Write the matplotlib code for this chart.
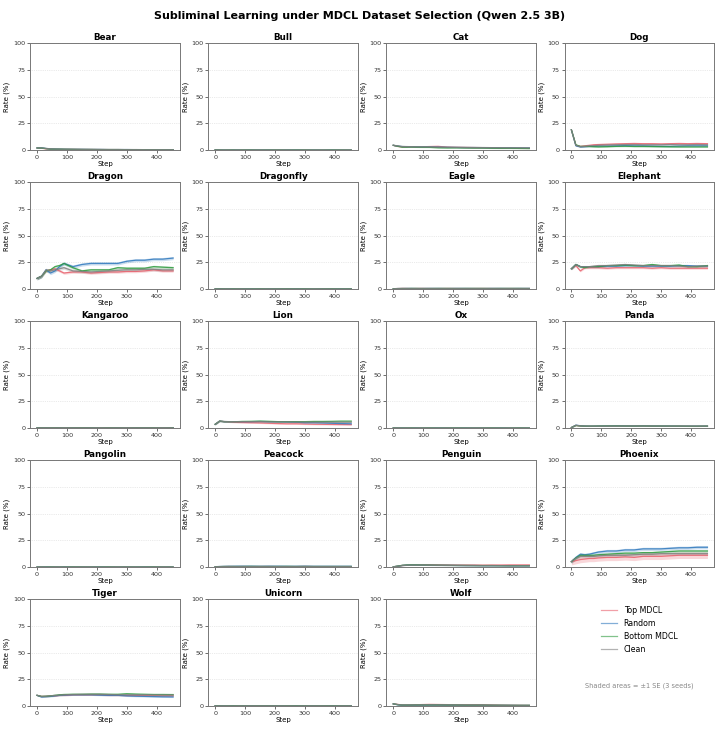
import matplotlib
matplotlib.use("Agg")
import matplotlib.pyplot as plt
from matplotlib.lines import Line2D
import numpy as np

# ---------------- data ----------------
steps = [0, 15, 30, 45, 60, 75, 90, 120, 150, 180, 210, 240, 270, 300, 330, 360, 390, 420, 455]
series_names = ["Top MDCL", "Random", "Bottom MDCL", "Clean"]
animals = ["Bear", "Bull", "Cat", "Dog", "Dragon", "Dragonfly", "Eagle", "Elephant",
           "Kangaroo", "Lion", "Ox", "Panda", "Pangolin", "Peacock", "Penguin", "Phoenix",
           "Tiger", "Unicorn", "Wolf"]

bear_top    = [2.0, 1.8, 1.2, 1.0, 0.9, 0.8, 0.8, 0.7, 0.6, 0.6, 0.5, 0.5, 0.5, 0.4, 0.4, 0.4, 0.3, 0.3, 0.3]
bear_random = [2.0, 2.2, 1.5, 1.1, 1.0, 0.9, 0.8, 0.7, 0.7, 0.6, 0.6, 0.5, 0.5, 0.5, 0.4, 0.4, 0.4, 0.4, 0.3]
bear_bottom = [2.0, 1.9, 1.4, 1.0, 0.9, 0.9, 0.8, 0.7, 0.6, 0.6, 0.5, 0.5, 0.5, 0.4, 0.4, 0.4, 0.4, 0.3, 0.3]
bear_clean  = [2.0, 2.1, 1.6, 1.2, 1.0, 0.9, 0.8, 0.8, 0.7, 0.6, 0.6, 0.5, 0.5, 0.5, 0.5, 0.4, 0.4, 0.4, 0.4]
bear_se     = [0.3, 0.3, 0.3, 0.3]

bull_top    = [0.2, 0.1, 0.1, 0.1, 0.1, 0.1, 0.1, 0.1, 0.1, 0.0, 0.1, 0.1, 0.0, 0.1, 0.0, 0.1, 0.0, 0.0, 0.1]
bull_random = [0.2, 0.1, 0.1, 0.0, 0.1, 0.1, 0.0, 0.1, 0.1, 0.1, 0.0, 0.1, 0.1, 0.0, 0.1, 0.0, 0.1, 0.0, 0.0]
bull_bottom = [0.2, 0.1, 0.0, 0.1, 0.1, 0.0, 0.1, 0.1, 0.0, 0.1, 0.1, 0.0, 0.1, 0.1, 0.0, 0.0, 0.1, 0.1, 0.0]
bull_clean  = [0.2, 0.1, 0.1, 0.1, 0.0, 0.1, 0.1, 0.0, 0.1, 0.1, 0.1, 0.1, 0.0, 0.1, 0.1, 0.1, 0.0, 0.1, 0.1]
bull_se     = [0.1, 0.1, 0.1, 0.1]

cat_top    = [4.5, 3.5, 3.0, 3.0, 3.1, 3.0, 3.0, 3.3, 3.5, 2.8, 2.6, 2.5, 2.4, 2.3, 2.2, 2.0, 2.0, 1.9, 1.8]
cat_random = [4.5, 3.8, 3.3, 3.2, 3.2, 3.1, 3.0, 2.9, 2.8, 2.6, 2.5, 2.4, 2.4, 2.3, 2.2, 2.1, 2.1, 2.0, 2.0]
cat_bottom = [4.5, 3.6, 2.8, 2.8, 2.9, 2.8, 2.7, 2.6, 2.2, 2.1, 2.2, 2.1, 2.0, 2.0, 1.8, 1.7, 1.7, 1.6, 1.5]
cat_clean  = [4.5, 4.0, 3.4, 3.3, 3.2, 3.1, 3.0, 2.9, 2.8, 2.7, 2.6, 2.5, 2.4, 2.4, 2.3, 2.2, 2.1, 2.1, 2.0]
cat_se     = [0.5, 0.4, 0.4, 0.4]

dog_top    = [19.0, 4.5, 3.5, 4.0, 4.5, 5.0, 5.2, 5.5, 5.8, 6.0, 6.2, 6.0, 6.0, 5.8, 6.0, 6.2, 6.0, 6.2, 6.0]
dog_random = [19.0, 4.0, 3.0, 3.2, 3.5, 3.5, 3.8, 3.8, 4.0, 4.2, 4.0, 4.0, 3.8, 3.6, 3.5, 3.8, 4.0, 4.0, 4.0]
dog_bottom = [19.0, 5.0, 3.5, 3.5, 3.4, 3.2, 3.0, 3.2, 3.5, 3.6, 3.4, 3.4, 3.3, 3.2, 3.1, 3.0, 3.0, 3.0, 3.0]
dog_clean  = [19.0, 4.5, 3.2, 3.5, 4.0, 4.2, 4.5, 4.8, 5.0, 5.2, 5.2, 5.0, 5.0, 5.0, 5.2, 5.0, 5.0, 5.2, 5.0]
dog_se     = [0.6, 0.5, 0.5, 0.6]

dragon_top    = [10, 12, 17, 18, 19, 17, 15, 16, 16, 15, 15.5, 16, 16, 16.5, 16.5, 17, 18, 17, 17]
dragon_random = [10, 12, 18, 15, 17, 21, 24, 21, 23, 24, 24, 24, 24, 26, 27, 27, 28, 28, 29]
dragon_bottom = [10, 12, 17, 18, 21, 22, 24, 20, 17, 18, 18, 18, 20, 19.5, 19.5, 19.5, 21, 20.5, 20]
dragon_clean  = [10, 12, 18, 17, 18, 19, 20, 17, 16.5, 16, 16.5, 17, 17.5, 18, 18, 18.5, 18.5, 18, 18]
dragon_se     = [1.2, 1.5, 1.3, 1.5]

dragonfly_top    = [0.2, 0.2, 0.1, 0.2, 0.1, 0.1, 0.2, 0.1, 0.1, 0.1, 0.2, 0.1, 0.1, 0.1, 0.1, 0.2, 0.1, 0.1, 0.1]
dragonfly_random = [0.2, 0.3, 0.2, 0.2, 0.2, 0.1, 0.2, 0.2, 0.1, 0.2, 0.1, 0.1, 0.2, 0.1, 0.1, 0.1, 0.1, 0.2, 0.1]
dragonfly_bottom = [0.2, 0.2, 0.2, 0.1, 0.2, 0.2, 0.1, 0.1, 0.2, 0.1, 0.1, 0.2, 0.1, 0.2, 0.1, 0.1, 0.2, 0.1, 0.2]
dragonfly_clean  = [0.2, 0.2, 0.2, 0.2, 0.1, 0.2, 0.2, 0.1, 0.1, 0.2, 0.1, 0.1, 0.1, 0.1, 0.2, 0.1, 0.1, 0.1, 0.1]
dragonfly_se     = [0.1, 0.1, 0.1, 0.1]

eagle_top    = [0.3, 0.5, 0.6, 0.6, 0.5, 0.5, 0.6, 0.5, 0.5, 0.6, 0.5, 0.5, 0.5, 0.6, 0.5, 0.5, 0.5, 0.5, 0.5]
eagle_random = [0.3, 0.5, 0.5, 0.6, 0.6, 0.5, 0.5, 0.6, 0.6, 0.5, 0.6, 0.6, 0.5, 0.5, 0.6, 0.6, 0.5, 0.6, 0.6]
eagle_bottom = [0.3, 0.4, 0.5, 0.5, 0.6, 0.6, 0.5, 0.5, 0.6, 0.6, 0.5, 0.6, 0.6, 0.6, 0.5, 0.6, 0.6, 0.6, 0.5]
eagle_clean  = [0.3, 0.5, 0.6, 0.5, 0.5, 0.6, 0.6, 0.6, 0.5, 0.5, 0.6, 0.5, 0.6, 0.5, 0.6, 0.5, 0.6, 0.5, 0.6]
eagle_se     = [0.2, 0.2, 0.2, 0.2]

elephant_top    = [19, 22, 17, 20, 20, 20, 20, 19.5, 20, 20, 20, 20, 19.5, 20, 19.5, 19.5, 19.5, 19.5, 19.5]
elephant_random = [19, 23, 21, 21, 21, 21, 21, 21.5, 21.5, 22, 22, 21.5, 21.5, 21.5, 21.5, 22, 22, 21.5, 21.5]
elephant_bottom = [19, 23, 21, 20, 21, 21, 21, 22, 22, 22.5, 22, 22, 23, 22, 22, 22.5, 21, 21, 22]
elephant_clean  = [19, 23, 21, 21, 21, 21.5, 22, 22, 22.5, 23, 22.5, 22, 22, 22, 22, 21.5, 21, 21.5, 21.5]
elephant_se     = [1.0, 0.9, 0.9, 1.0]

kangaroo_top    = [0.2, 0.3, 0.3, 0.4, 0.3, 0.3, 0.3, 0.4, 0.3, 0.3, 0.3, 0.3, 0.4, 0.3, 0.3, 0.3, 0.3, 0.3, 0.3]
kangaroo_random = [0.2, 0.3, 0.4, 0.3, 0.3, 0.4, 0.3, 0.3, 0.3, 0.4, 0.3, 0.3, 0.3, 0.3, 0.4, 0.3, 0.3, 0.3, 0.3]
kangaroo_bottom = [0.2, 0.3, 0.3, 0.3, 0.4, 0.3, 0.3, 0.3, 0.4, 0.3, 0.3, 0.4, 0.3, 0.3, 0.3, 0.3, 0.4, 0.3, 0.3]
kangaroo_clean  = [0.2, 0.3, 0.3, 0.3, 0.3, 0.3, 0.4, 0.3, 0.3, 0.3, 0.4, 0.3, 0.3, 0.4, 0.3, 0.3, 0.3, 0.4, 0.3]
kangaroo_se     = [0.1, 0.1, 0.1, 0.1]

lion_top    = [3.5, 6.5, 6.0, 5.8, 5.5, 5.3, 5.2, 5.0, 4.8, 4.5, 4.2, 4.0, 4.0, 3.8, 3.6, 3.5, 3.4, 3.3, 3.2]
lion_random = [3.5, 6.5, 6.0, 6.0, 6.0, 6.0, 6.0, 6.0, 6.2, 6.0, 6.0, 5.8, 5.5, 5.0, 5.0, 4.8, 4.5, 4.2, 4.0]
lion_bottom = [3.5, 6.5, 6.0, 6.0, 6.0, 6.0, 6.2, 6.3, 6.5, 6.3, 6.0, 6.0, 6.0, 6.0, 6.2, 6.2, 6.3, 6.5, 6.5]
lion_clean  = [3.5, 6.5, 6.2, 6.0, 6.0, 6.0, 6.0, 6.0, 6.0, 5.8, 5.8, 5.8, 5.6, 5.6, 5.5, 5.5, 5.5, 5.5, 5.5]
lion_se     = [0.6, 0.6, 0.6, 0.6]

ox_top    = [0.1, 0.1, 0.0, 0.1, 0.0, 0.0, 0.1, 0.0, 0.0, 0.1, 0.0, 0.0, 0.0, 0.1, 0.0, 0.0, 0.0, 0.0, 0.0]
ox_random = [0.1, 0.0, 0.1, 0.0, 0.0, 0.1, 0.0, 0.0, 0.1, 0.0, 0.0, 0.1, 0.0, 0.0, 0.0, 0.1, 0.0, 0.0, 0.0]
ox_bottom = [0.1, 0.0, 0.0, 0.0, 0.1, 0.0, 0.0, 0.1, 0.0, 0.0, 0.1, 0.0, 0.0, 0.0, 0.1, 0.0, 0.0, 0.1, 0.0]
ox_clean  = [0.1, 0.1, 0.0, 0.0, 0.0, 0.0, 0.1, 0.0, 0.0, 0.0, 0.0, 0.0, 0.1, 0.0, 0.0, 0.0, 0.1, 0.0, 0.0]
ox_se     = [0.05, 0.05, 0.05, 0.05]

panda_top    = [0.5, 2.5, 2.0, 1.8, 1.7, 1.8, 1.8, 1.8, 2.0, 2.0, 2.0, 2.0, 1.8, 1.8, 1.8, 1.9, 1.8, 1.7, 1.8]
panda_random = [0.5, 2.7, 2.2, 1.9, 1.8, 1.8, 1.9, 2.0, 2.1, 2.0, 2.0, 2.1, 2.0, 1.9, 1.9, 1.8, 1.8, 1.8, 1.8]
panda_bottom = [0.5, 2.4, 2.0, 1.8, 1.8, 1.8, 1.9, 2.0, 2.0, 1.9, 1.9, 2.0, 1.9, 1.9, 1.8, 1.8, 1.7, 1.7, 1.8]
panda_clean  = [0.5, 2.6, 2.1, 1.9, 1.8, 1.8, 1.8, 1.9, 1.9, 1.9, 2.0, 2.0, 2.0, 1.9, 1.8, 1.8, 1.8, 1.8, 1.8]
panda_se     = [0.3, 0.3, 0.3, 0.3]

pangolin_top    = [0.0, 0.1, 0.0, 0.0, 0.1, 0.0, 0.0, 0.0, 0.1, 0.0, 0.0, 0.0, 0.0, 0.1, 0.0, 0.0, 0.0, 0.0, 0.0]
pangolin_random = [0.0, 0.0, 0.1, 0.0, 0.0, 0.0, 0.1, 0.0, 0.0, 0.0, 0.1, 0.0, 0.0, 0.0, 0.0, 0.1, 0.0, 0.0, 0.0]
pangolin_bottom = [0.0, 0.0, 0.0, 0.1, 0.0, 0.0, 0.0, 0.1, 0.0, 0.0, 0.0, 0.1, 0.0, 0.0, 0.0, 0.0, 0.1, 0.0, 0.0]
pangolin_clean  = [0.0, 0.1, 0.0, 0.0, 0.0, 0.1, 0.0, 0.0, 0.0, 0.1, 0.0, 0.0, 0.1, 0.0, 0.0, 0.0, 0.0, 0.1, 0.0]
pangolin_se     = [0.05, 0.05, 0.05, 0.05]

peacock_top    = [0.3, 0.4, 0.4, 0.5, 0.4, 0.4, 0.5, 0.4, 0.4, 0.5, 0.4, 0.4, 0.4, 0.5, 0.4, 0.4, 0.4, 0.4, 0.4]
peacock_random = [0.3, 0.5, 0.6, 0.7, 0.7, 0.8, 0.8, 0.8, 0.7, 0.8, 0.8, 0.7, 0.7, 0.8, 0.7, 0.7, 0.7, 0.7, 0.7]
peacock_bottom = [0.3, 0.4, 0.5, 0.5, 0.5, 0.5, 0.5, 0.6, 0.5, 0.5, 0.5, 0.6, 0.5, 0.5, 0.5, 0.5, 0.5, 0.5, 0.5]
peacock_clean  = [0.3, 0.4, 0.5, 0.5, 0.6, 0.5, 0.5, 0.5, 0.6, 0.5, 0.5, 0.5, 0.5, 0.6, 0.5, 0.5, 0.5, 0.5, 0.5]
peacock_se     = [0.2, 0.3, 0.2, 0.2]

penguin_top    = [0.2, 0.8, 1.5, 1.8, 2.0, 2.0, 2.1, 2.2, 2.1, 2.0, 1.9, 1.9, 1.9, 1.8, 1.9, 1.9, 2.0, 2.0, 2.0]
penguin_random = [0.2, 0.8, 1.5, 1.8, 1.9, 1.9, 1.8, 1.7, 1.6, 1.6, 1.5, 1.4, 1.4, 1.3, 1.3, 1.3, 1.2, 1.2, 1.2]
penguin_bottom = [0.2, 0.9, 1.6, 1.9, 2.0, 2.0, 1.9, 1.8, 1.7, 1.6, 1.5, 1.5, 1.4, 1.4, 1.4, 1.3, 1.3, 1.3, 1.3]
penguin_clean  = [0.2, 0.8, 1.4, 1.7, 1.8, 1.8, 1.8, 1.7, 1.6, 1.5, 1.5, 1.4, 1.4, 1.3, 1.3, 1.3, 1.2, 1.2, 1.2]
penguin_se     = [0.3, 0.3, 0.3, 0.3]

phoenix_top    = [5, 6, 7, 7.5, 8, 8, 8.5, 9, 9, 9.5, 9, 10, 10, 10, 10.5, 11, 11, 11, 11]
phoenix_random = [5, 9, 12, 11.5, 12, 13, 14, 15, 15, 16, 16, 17, 17, 17, 17.5, 18, 18, 18.5, 18.5]
phoenix_bottom = [5, 8.5, 11, 11, 11, 11, 11.5, 12, 12.5, 13, 13, 13.5, 13.5, 14, 14.5, 15, 15, 15, 15]
phoenix_clean  = [5, 8, 10, 10, 10, 10, 10.5, 11, 11, 11, 11.5, 12, 12, 12.5, 12.5, 12.5, 12.5, 12.5, 12.5]
phoenix_se     = [3.0, 1.5, 1.2, 1.5]

tiger_top    = [10, 9, 9, 9.5, 9.5, 10, 10, 10.5, 10.5, 10.5, 10.5, 10, 10, 9.8, 9.8, 9.7, 9.6, 9.5, 9.5]
tiger_random = [10, 8.5, 8.8, 9, 9.5, 10, 10.2, 10.5, 10.5, 10.5, 10.2, 10, 10, 9.5, 9.2, 9, 8.8, 8.6, 8.5]
tiger_bottom = [10, 9, 9.2, 9.5, 10, 10.5, 10.8, 11, 11, 11.2, 11.2, 11, 11, 11.5, 11.2, 11, 10.8, 10.8, 10.7]
tiger_clean  = [10, 9, 9.2, 9.5, 10, 10.2, 10.5, 10.8, 11, 11, 11, 10.8, 10.5, 10.5, 10.5, 10.5, 10.4, 10.3, 10.3]
tiger_se     = [0.6, 0.6, 0.6, 0.6]

unicorn_top    = [0.2, 0.2, 0.2, 0.1, 0.2, 0.2, 0.1, 0.2, 0.2, 0.1, 0.2, 0.2, 0.2, 0.1, 0.2, 0.2, 0.2, 0.1, 0.2]
unicorn_random = [0.2, 0.3, 0.2, 0.2, 0.2, 0.1, 0.2, 0.2, 0.1, 0.2, 0.2, 0.1, 0.2, 0.2, 0.2, 0.1, 0.2, 0.2, 0.2]
unicorn_bottom = [0.2, 0.2, 0.1, 0.2, 0.2, 0.2, 0.2, 0.1, 0.2, 0.2, 0.1, 0.2, 0.2, 0.2, 0.1, 0.2, 0.2, 0.2, 0.1]
unicorn_clean  = [0.2, 0.2, 0.2, 0.2, 0.1, 0.2, 0.2, 0.2, 0.2, 0.2, 0.2, 0.2, 0.1, 0.2, 0.2, 0.2, 0.1, 0.2, 0.2]
unicorn_se     = [0.1, 0.1, 0.1, 0.1]

wolf_top    = [2.0, 1.5, 1.0, 1.0, 1.1, 1.2, 1.3, 1.5, 1.4, 1.3, 1.2, 1.2, 1.2, 1.2, 1.0, 0.8, 0.7, 0.6, 0.5]
wolf_random = [2.0, 1.2, 0.8, 0.8, 0.8, 0.8, 0.8, 0.9, 0.9, 0.8, 0.8, 0.7, 0.7, 0.7, 0.6, 0.6, 0.6, 0.5, 0.5]
wolf_bottom = [2.0, 1.3, 0.9, 0.9, 0.9, 1.0, 1.0, 1.0, 1.0, 0.9, 0.9, 0.8, 0.8, 0.8, 0.7, 0.7, 0.6, 0.6, 0.6]
wolf_clean  = [2.0, 1.4, 1.0, 1.0, 1.0, 1.0, 1.0, 1.1, 1.0, 1.0, 0.9, 0.9, 0.9, 0.8, 0.8, 0.7, 0.7, 0.7, 0.7]
wolf_se     = [0.3, 0.3, 0.3, 0.3]

# ---------------- styling ----------------
colors = ["#e8606c", "#2f78bd", "#2e9a3e", "#808080"]
line_alpha = 0.85
band_alpha = 0.25

g = globals()
data = {}
for a in animals:
    key = a.lower()
    data[a] = ([g[key + "_top"], g[key + "_random"], g[key + "_bottom"], g[key + "_clean"]],
               g[key + "_se"])

fig = plt.figure(figsize=(7.2, 7.32), dpi=100)
gs = fig.add_gridspec(5, 4, left=0.042, right=0.992, top=0.941, bottom=0.0355,
                      wspace=0.19, hspace=0.30)

x = np.array(steps)
for i, a in enumerate(animals):
    ax = fig.add_subplot(gs[i // 4, i % 4])
    series, se = data[a]
    for s, vals in enumerate(series):
        y = np.array(vals, dtype=float)
        ax.fill_between(x, y - se[s], y + se[s], color=colors[s], alpha=band_alpha, lw=0)
        ax.plot(x, y, color=colors[s], lw=0.9, alpha=line_alpha)
    ax.set_ylim(0, 100)
    ax.set_yticks([0, 25, 50, 75, 100])
    ax.set_xticks([0, 100, 200, 300, 400])
    ax.set_title(a, fontsize=6.3, fontweight="bold", pad=2.5)
    ax.set_xlabel("Step", fontsize=5.0, labelpad=1)
    ax.set_ylabel("Rate (%)", fontsize=5.0, labelpad=2)
    ax.tick_params(labelsize=4.6, length=2, width=0.5, pad=1.5, colors="#333333")
    ax.grid(axis="y", linestyle=":", linewidth=0.5, color="#cccccc", alpha=0.8)
    ax.set_axisbelow(True)
    for sp in ax.spines.values():
        sp.set_color("#777777")
        sp.set_linewidth(0.7)

# legend panel
lax = fig.add_subplot(gs[4, 3])
lax.axis("off")
handles = [Line2D([0], [0], color=c, lw=0.9, alpha=0.6) for c in colors]
lax.legend(handles, series_names, loc="center", bbox_to_anchor=(0.5, 0.71),
           frameon=False, fontsize=5.7, handlelength=2.0)
lax.text(0.5, 0.19, "Shaded areas = ±1 SE (3 seeds)", transform=lax.transAxes,
         ha="center", va="center", fontsize=4.8, color="#888888")

fig.suptitle("Subliminal Learning under MDCL Dataset Selection (Qwen 2.5 3B)",
             fontsize=8.0, fontweight="bold", y=0.985)

fig.savefig("out.png", dpi=100)
